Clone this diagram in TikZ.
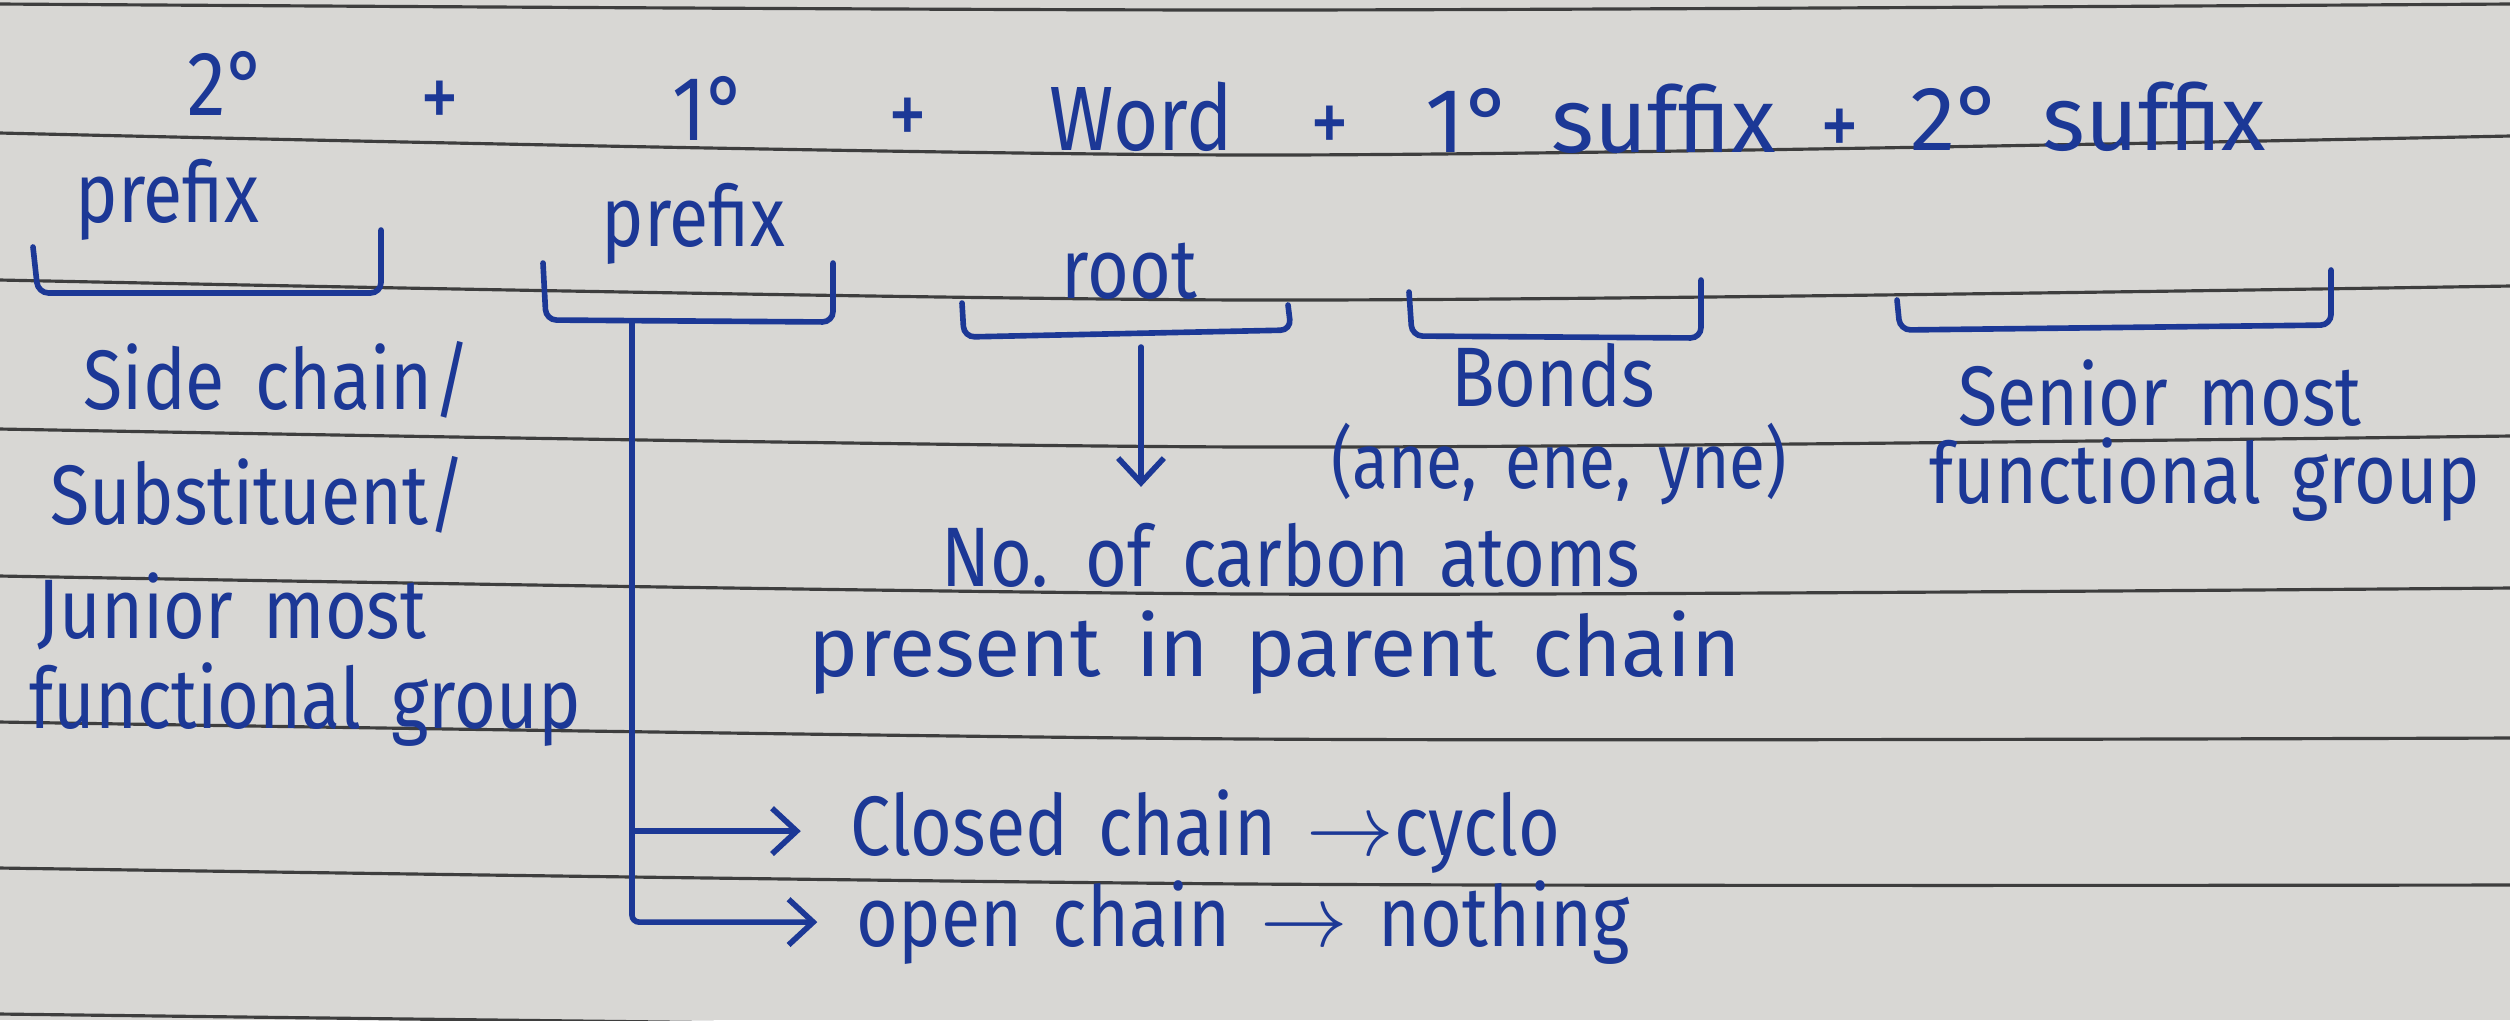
\documentclass[tikz,border=0pt]{standalone}
\usepackage{fontspec}
\setmainfont{Fira Sans}[FakeStretch=0.85, WordSpace=1.6]
\newfontfamily\widehand{Fira Sans}[WordSpace=1.6]
\usepackage{tikz}
\usetikzlibrary{arrows.meta, positioning, calc}
\definecolor{ink}{RGB}{28,56,150}
\definecolor{paper}{RGB}{216,215,212}
\definecolor{rulegray}{RGB}{62,62,62}
\tikzstyle{arrow} = [draw=ink, line width=1.6pt, line cap=round, -{Straight Barb[length=7pt, width=13pt]}]

\begin{document}
\begin{tikzpicture}[
	x=0.01cm, y=-0.01cm,
	hand/.style={text=ink, inner sep=0pt, font=\fontsize{24}{28}\selectfont},
	big/.style={hand, font=\fontsize{26}{30}\selectfont},
	bigwide/.style={hand, font=\fontsize{26}{30}\widehand},
	rule/.style={draw=rulegray, line width=0.9pt},
	brace/.style={draw=ink, line width=1.6pt, line cap=round, rounded corners=3pt}
]

% Paper and ruled lines
\fill[paper] (0,0) rectangle (2510,1020);
\useasboundingbox (0,0) rectangle (2510,1020);
\foreach \a/\b/\c in {4/10/4, 133/155/136, 280/300/286, 429/447/436, 576/594/588, 722/739/738, 868/884/885, 1014/1028/1033}
	\draw[rule] plot[smooth] coordinates {(0,\a) (1250,\b) (2510,\c)};

% Name formula
\node[big, anchor=base west] (pre2deg) at (187,115) {2°};
\node[big] (plusA) at (440,105) {+};
\node[big, anchor=base west] (pre1deg) at (672,140) {1°};
\node[big] (plusB) at (908,122) {+};
\node[big, anchor=base west] (word) at (1049,150) {Word};
\node[big] (plusC) at (1330,130) {+};
\node[bigwide, anchor=base west] (suf1) at (1425,152) {1° suffix};
\node[big] (plusD) at (1840,133) {+};
\node[bigwide, anchor=base west] (suf2) at (1910,150) {2° suffix};

\node[hand, anchor=base west] (pre2) at (75,222) {prefix};
\node[hand, anchor=base west] (pre1) at (601,246) {prefix};
\node[hand, anchor=base west] (root) at (1061,298) {root};

% Brackets
\draw[brace] (33,247) -- (38,293) -- (381,293) -- (381,230);
\draw[brace] (543,263) -- (546,320) -- (833,322) -- (833,263);
\draw[brace] (962,303) -- (964,337) -- (1291,330) -- (1288,305);
\draw[brace] (1409,292) -- (1412,336) -- (1701,338) -- (1701,280);
\draw[brace] (1897,300) -- (1900,330) -- (2331,325) -- (2331,270);
\coordinate (stem) at (632,321);
\coordinate (rootstem) at (1141,347);

% Meanings
\node[hand, anchor=base west] (side) at (83,409) {Side chain/};
\node[hand, anchor=base west] (subst) at (50,524) {Substituent/};
\node[hand, anchor=base west] (junior) at (37,638) {Junior most};
\node[hand, anchor=base west] (jfg) at (29,728) {functional group};

\node[hand, anchor=base] (ncarb) at (1291,586) {No. of carbon atoms};
\node[hand, font=\fontsize{24}{28}\widehand, anchor=base] (parent) at (1275,676) {present in parent chain};

\node[hand, anchor=base] (bonds) at (1553,406) {Bonds};
\node[hand, font=\fontsize{22}{26}\selectfont, anchor=base] (ane) at (1559,488) {(ane, ene, yne)};

\node[hand, anchor=base] (senior) at (2160,425) {Senior most};
\node[hand, anchor=base] (sfg) at (2205,503) {functional group};

\node[hand, anchor=base west] (closed) at (850,855) {Closed chain $\rightarrow$cyclo};
\node[hand, anchor=base west] (open) at (856,946) {open chain $\rightarrow$ nothing};

% Arrows
\draw[arrow, shorten >=10pt] (rootstem) -- (rootstem |- ncarb.north);
\draw[arrow, shorten >=11pt, rounded corners=2pt] (stem) |- (open.west);
\draw[arrow, shorten >=14pt] (stem) |- (closed.west);

\end{tikzpicture}
\end{document}
